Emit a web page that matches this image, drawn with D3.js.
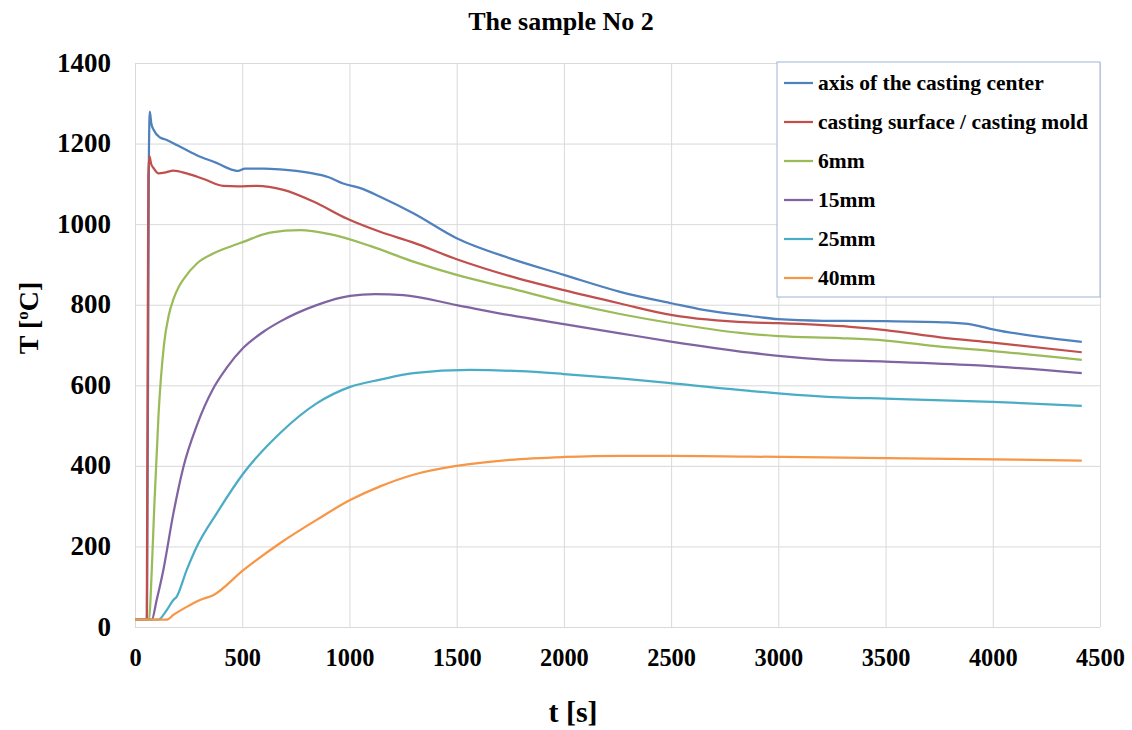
<!DOCTYPE html>
<html>
<head>
<meta charset="utf-8">
<script src="https://cdn.jsdelivr.net/npm/d3@7"></script>
<style>
  html, body { margin: 0; padding: 0; background: #fff; }
  svg { display: block; }
  text { font-family: "Liberation Serif", "Times New Roman", serif; font-weight: bold; fill: #000; }
</style>
</head>
<body>
<svg id="chart" width="1132" height="730"></svg>
<script>
// ---------- data ----------
const seriesNames = ["axis of the casting center", "casting surface / casting mold", "6mm", "15mm", "25mm", "40mm"];
const seriesColors = ["#4F81BD", "#C0504D", "#9BBB59", "#8064A2", "#4BACC6", "#F79646"];

const centerT = [0, 56, 65, 69, 76, 88, 117, 148, 200, 288, 380, 459, 480, 513, 600, 676, 816, 900, 971, 1064, 1143, 1298, 1500, 1749, 2000, 2262, 2506, 2651, 2868, 3000, 3210, 3500, 3786, 3910, 4000, 4221, 4415];
const centerV = [18, 18, 1180, 1279, 1250, 1233, 1215, 1209, 1195, 1171, 1152, 1134, 1132, 1138, 1138, 1136, 1127, 1117, 1101, 1087, 1068, 1027, 965, 915, 874, 832, 803, 787, 772, 764, 760, 759, 756, 750, 739, 720, 708];

const surfaceT = [0, 55, 62, 67, 75, 88, 109, 140, 179, 241, 320, 412, 480, 567, 692, 832, 987, 1143, 1298, 1500, 1749, 2000, 2262, 2506, 2868, 3000, 3335, 3500, 3755, 4000, 4415];
const surfaceV = [18, 18, 1120, 1169, 1150, 1138, 1126, 1128, 1133, 1126, 1112, 1095, 1094, 1095, 1085, 1056, 1014, 981, 954, 913, 871, 836, 803, 774, 756, 754, 745, 737, 719, 706, 682];

const mm6T = [0, 66, 75, 90, 110, 135, 158, 180, 205, 230, 290, 365, 443, 505, 630, 770, 909, 1096, 1298, 1500, 1749, 2000, 2262, 2506, 2822, 3000, 3288, 3500, 3755, 4000, 4415];
const mm6V = [18, 18, 100, 300, 530, 700, 775, 815, 845, 866, 903, 927, 944, 956, 979, 985, 975, 946, 907, 874, 841, 807, 777, 754, 730, 722, 717, 711, 696, 685, 663];

const mm15T = [0, 78, 101, 132, 179, 226, 288, 365, 427, 505, 599, 676, 847, 1003, 1120, 1251, 1500, 1749, 2000, 2262, 2506, 2868, 3000, 3210, 3500, 3910, 4415];
const mm15V = [18, 18, 67, 141, 282, 398, 500, 592, 643, 693, 733, 758, 799, 822, 826, 824, 799, 774, 752, 729, 708, 681, 673, 664, 659, 650, 630];

const mm25T = [0, 108, 148, 179, 194, 240, 288, 381, 505, 676, 847, 1003, 1143, 1298, 1562, 1796, 2000, 2262, 2506, 2868, 3000, 3288, 3500, 4000, 4415];
const mm25V = [18, 18, 42, 67, 75, 140, 199, 282, 381, 481, 555, 596, 614, 630, 638, 635, 628, 617, 605, 586, 580, 570, 567, 559, 549];

const mm40T = [0, 148, 179, 241, 303, 365, 505, 676, 847, 1003, 1143, 1298, 1500, 1749, 2000, 2262, 2506, 2868, 3500, 4000, 4415];
const mm40V = [18, 18, 30, 50, 67, 79, 141, 208, 266, 315, 349, 378, 400, 415, 422, 425, 425, 423, 419, 416, 413];

const xTicks = [0, 500, 1000, 1500, 2000, 2500, 3000, 3500, 4000, 4500];
const yTicks = [0, 200, 400, 600, 800, 1000, 1200, 1400];

const titleText = "The sample No 2";
const xTitle = "t [s]";

// ---------- build ----------
const series = [
  [centerT, centerV], [surfaceT, surfaceV], [mm6T, mm6V],
  [mm15T, mm15V], [mm25T, mm25V], [mm40T, mm40V]
].map((p, i) => ({
  name: seriesNames[i], color: seriesColors[i],
  points: p[0].map((t, j) => ({ t: t, v: p[1][j] }))
}));

const svg = d3.select("#chart");
const plotL = 135, plotR = 1100, plotT = 63, plotB = 627;

const x = d3.scaleLinear().domain([0, 4500]).range([plotL, plotR]);
const y = d3.scaleLinear().domain([0, 1400]).range([plotB, plotT]);

// gridlines + tick labels via axes
const gy = svg.append("g").attr("transform", `translate(${plotL},0)`)
  .call(d3.axisLeft(y).tickValues(yTicks).tickSize(-(plotR - plotL)).tickPadding(24).tickFormat(d3.format("d")));
gy.select(".domain").remove();
gy.selectAll("line").attr("stroke", "#d9d9d9").attr("stroke-width", 1);
gy.selectAll("text").attr("font-size", 27).attr("dy", "0.30em").attr("x", -24)
  .style("font-family", '"Liberation Serif", "Times New Roman", serif').style("font-weight", "bold").attr("fill", "#000");

const gx = svg.append("g").attr("transform", `translate(0,${plotB})`)
  .call(d3.axisBottom(x).tickValues(xTicks).tickSize(-(plotB - plotT)).tickPadding(0).tickFormat(d3.format("d")));
gx.select(".domain").remove();
gx.selectAll("line").attr("stroke", "#d9d9d9").attr("stroke-width", 1);
gx.selectAll("text").attr("font-size", 25).attr("y", 39).attr("dy", 0)
  .style("font-family", '"Liberation Serif", "Times New Roman", serif').style("font-weight", "bold").attr("fill", "#000")
  .each(function () {
    const n = this.textContent.length;
    d3.select(this).attr("textLength", n * 12.2).attr("lengthAdjust", "spacingAndGlyphs");
  });

// lines
const line = d3.line().x(d => x(d.t)).y(d => y(d.v)).curve(d3.curveMonotoneX);
svg.append("g").selectAll("path").data(series).join("path")
  .attr("d", d => line(d.points))
  .attr("fill", "none")
  .attr("stroke", d => d.color)
  .attr("stroke-width", 2.25)
  .attr("stroke-linejoin", "round");

// title
svg.append("text").attr("x", 561).attr("y", 30).attr("text-anchor", "middle")
  .attr("font-size", 26).text(titleText);

// x axis title
svg.append("text").attr("x", 573).attr("y", 722).attr("text-anchor", "middle")
  .attr("font-size", 30).text(xTitle);

// y axis title
const yt = svg.append("text").attr("transform", "translate(38,318) rotate(-90)")
  .attr("text-anchor", "middle").attr("font-size", 28);
yt.append("tspan").text("T  [");
yt.append("tspan").attr("font-size", 17).attr("dy", -10).text("o");
yt.append("tspan").attr("dy", 10).text("C]");

// legend
const lg = svg.append("g");
lg.append("rect").attr("x", 777).attr("y", 62).attr("width", 323).attr("height", 235)
  .attr("fill", "#fff").attr("stroke", "#9db5d9").attr("stroke-width", 1);
const items = lg.selectAll("g.item").data(series).join("g").attr("class", "item")
  .attr("transform", (d, i) => `translate(0,${83 + i * 39})`);
items.append("line").attr("x1", 784).attr("x2", 813).attr("y1", 0).attr("y2", 0)
  .attr("stroke", d => d.color).attr("stroke-width", 2.25);
items.append("text").attr("x", 818).attr("y", 0).attr("dy", "0.32em")
  .attr("font-size", 21.5).text(d => d.name);
</script>
</body>
</html>
